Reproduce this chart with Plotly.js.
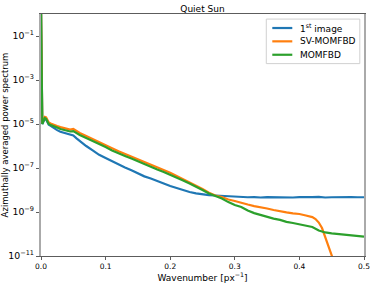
<!DOCTYPE html>
<html>
<head>
<meta charset="utf-8">
<script src="https://cdn.plot.ly/plotly-3.0.1.min.js"></script>
<style>html,body{margin:0;padding:0;background:#fff;}#chart{width:374px;height:287px;}</style>
</head>
<body>
<div id="chart"></div>
<script>
// Wavenumber [px^-1]
const wavenumber = [0, 0.002, 0.004, 0.006, 0.008, 0.010, 0.012, 0.015, 0.02, 0.025, 0.03, 0.035, 0.04, 0.045, 0.05, 0.055, 0.06, 0.07, 0.08, 0.09, 0.10,
  0.11, 0.12, 0.13, 0.14, 0.15, 0.16, 0.17, 0.18, 0.19, 0.20, 0.21, 0.22, 0.23, 0.24, 0.25, 0.26, 0.27, 0.28, 0.29, 0.30,
  0.31, 0.32, 0.33, 0.34, 0.35, 0.36, 0.37, 0.38, 0.39, 0.40, 0.41, 0.42, 0.43, 0.44, 0.45, 0.46, 0.47, 0.48, 0.49, 0.50];

// log10 of the azimuthally averaged power spectrum
const firstImageLog = [0.4, -5.0, -4.88, -4.75, -4.8, -4.95, -5.03, -5.08, -5.2, -5.28, -5.35, -5.4, -5.45, -5.5, -5.52, -5.65, -5.78, -6.0, -6.2, -6.4, -6.55,
  -6.7, -6.85, -6.98, -7.1, -7.24, -7.38, -7.48, -7.58, -7.7, -7.82, -7.92, -8.02, -8.09, -8.15, -8.2, -8.23, -8.25, -8.27, -8.29, -8.3,
  -8.31, -8.33, -8.32, -8.34, -8.32, -8.33, -8.31, -8.33, -8.34, -8.32, -8.33, -8.32, -8.31, -8.34, -8.33, -8.32, -8.33, -8.32, -8.33, -8.33];

const svWavenumber = [0, 0.002, 0.004, 0.006, 0.008, 0.010, 0.012, 0.015, 0.02, 0.025, 0.03, 0.035, 0.04, 0.045, 0.05, 0.055, 0.06, 0.07, 0.08, 0.09, 0.10,
  0.11, 0.12, 0.13, 0.14, 0.15, 0.16, 0.17, 0.18, 0.19, 0.20, 0.21, 0.22, 0.23, 0.24, 0.25, 0.26, 0.27, 0.28, 0.29, 0.30,
  0.31, 0.32, 0.33, 0.34, 0.35, 0.36, 0.37, 0.38, 0.39, 0.40, 0.41, 0.42, 0.425, 0.43, 0.435, 0.44, 0.445, 0.45, 0.455, 0.46];
const svMomfbdLog = [0.4, -4.95, -4.8, -4.68, -4.7, -4.85, -4.93, -4.98, -5.02, -5.09, -5.14, -5.18, -5.22, -5.25, -5.22, -5.33, -5.41, -5.55, -5.68, -5.82, -5.95,
  -6.1, -6.24, -6.36, -6.48, -6.61, -6.75, -6.87, -6.99, -7.1, -7.22, -7.36, -7.5, -7.64, -7.79, -7.95, -8.12, -8.25, -8.32, -8.43, -8.5,
  -8.59, -8.66, -8.73, -8.77, -8.84, -8.91, -8.98, -9.02, -9.06, -9.09, -9.16, -9.23, -9.32, -9.48, -9.73, -10.14, -10.59, -11.0, -11.4, -11.8];

const momfbdLog = [0.4, -5.0, -4.86, -4.73, -4.77, -4.91, -5.0, -5.05, -5.09, -5.16, -5.23, -5.27, -5.32, -5.34, -5.32, -5.43, -5.5, -5.64, -5.77, -5.91, -6.05,
  -6.2, -6.34, -6.45, -6.57, -6.7, -6.84, -6.95, -7.07, -7.18, -7.3, -7.43, -7.57, -7.7, -7.84, -8.0, -8.16, -8.27, -8.39, -8.55, -8.68,
  -8.77, -8.93, -9.05, -9.14, -9.23, -9.3, -9.36, -9.45, -9.5, -9.55, -9.61, -9.68, -9.84, -9.93, -9.97, -10.0, -10.04, -10.07, -10.09, -10.12];

const seriesNames = ['1<sup>st</sup> image', 'SV-MOMFBD', 'MOMFBD'];
const seriesColors = ['#1f77b4', '#ff7f0e', '#2ca02c'];
const toPower = a => a.map(v => Math.pow(10, v));

const traces = [
  {x: wavenumber, y: toPower(firstImageLog)},
  {x: svWavenumber, y: toPower(svMomfbdLog)},
  {x: wavenumber, y: toPower(momfbdLog)}
].map((t, i) => Object.assign(t, {
  type: 'scatter', mode: 'lines', name: seriesNames[i], showlegend: false,
  line: {color: seriesColors[i], width: 2.2}
}));

const font = {family: 'DejaVu Sans, sans-serif', color: '#000'};

// compact matplotlib-style legend drawn in paper coordinates
const legX0 = 0.6975, legX1 = 0.987, legY0 = 0.795, legY1 = 0.979;
const rowY = [0.9421, 0.8870, 0.8316];
const shapes = [{type: 'rect', xref: 'paper', yref: 'paper', x0: legX0, x1: legX1, y0: legY0, y1: legY1,
  line: {color: '#d0d0d0', width: 1}, fillcolor: 'rgba(255,255,255,0.85)', layer: 'above'}];
const annotations = [];
seriesNames.forEach((n, i) => {
  shapes.push({type: 'line', xref: 'paper', yref: 'paper', x0: 0.7161, x1: 0.778, y0: rowY[i], y1: rowY[i],
    line: {color: seriesColors[i], width: 2.2}, layer: 'above'});
  annotations.push({xref: 'paper', yref: 'paper', x: 0.796, y: rowY[i], xanchor: 'left', yanchor: 'middle',
    text: n, showarrow: false, font: Object.assign({}, font, {size: 9})});
});

const layout = {
  width: 374, height: 287,
  margin: {l: 40.7, r: 10.3, t: 14, b: 31.3},
  paper_bgcolor: '#fff', plot_bgcolor: '#fff',
  font: Object.assign({size: 7.5}, font),
  showlegend: false,
  title: {text: 'Quiet Sun', font: Object.assign({}, font, {size: 9}), x: 0.5, xref: 'paper', y: 1, yref: 'paper', yanchor: 'bottom', pad: {b: 2}},
  xaxis: {
    range: [0, 0.5], tick0: 0, dtick: 0.1, tickformat: '.1f',
    showgrid: false, zeroline: false,
    showline: true, mirror: true, linecolor: '#333', linewidth: 0.8,
    ticks: 'outside', ticklen: 3.5, tickwidth: 0.8, tickcolor: '#333',
    tickfont: Object.assign({}, font, {size: 7.5}),
    title: {text: 'Wavenumber [px<sup>−1</sup>]', font: Object.assign({}, font, {size: 9}), standoff: 3}
  },
  yaxis: {
    type: 'log', range: [-11, 0], tick0: -1, dtick: 2, exponentformat: 'power',
    showgrid: false, zeroline: false,
    showline: true, mirror: true, linecolor: '#aaa', linewidth: 2,
    ticks: 'outside', ticklen: 3.5, tickwidth: 0.8, tickcolor: '#333',
    tickfont: Object.assign({}, font, {size: 7.5}),
    title: {text: 'Azimuthally averaged power spectrum', font: Object.assign({}, font, {size: 8.5}), standoff: 5}
  },
  shapes: shapes,
  annotations: annotations
};

Plotly.newPlot('chart', traces, layout, {staticPlot: true, displayModeBar: false});
</script>
</body>
</html>
